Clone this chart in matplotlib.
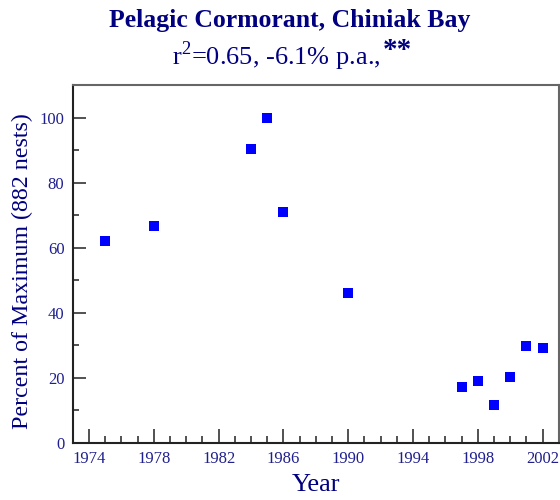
import matplotlib
matplotlib.use("Agg")
import matplotlib.pyplot as plt
from matplotlib.ticker import MultipleLocator

years = [1975, 1978, 1984, 1985, 1986, 1990, 1997, 1998, 1999, 2000, 2001, 2002]
pct_max = [62.2, 66.8, 90.3, 100.0, 71.1, 46.2, 17.3, 19.1, 11.7, 20.3, 29.8, 29.3]

title = "Pelagic Cormorant, Chiniak Bay"
xlabel = "Year"
ylabel = "Percent of Maximum (882 nests)"

navy = "#000080"
tick_col = "#1f1f8f"

plt.rcParams["font.family"] = ["Liberation Serif", "DejaVu Serif"]
plt.rcParams["mathtext.fontset"] = "custom"
plt.rcParams["mathtext.rm"] = "Liberation Serif"

fig = plt.figure(figsize=(5.6, 5.0), dpi=100)
ax = fig.add_axes([0.130, 0.114, 0.868, 0.716])

ax.plot(years, pct_max, "s", color="#0000ff", markersize=6.5, markeredgewidth=0)

ax.set_xlim(1973, 2003)
ax.set_ylim(0, 110)
ax.xaxis.set_minor_locator(MultipleLocator(1))
ax.yaxis.set_major_locator(MultipleLocator(20))
ax.yaxis.set_minor_locator(MultipleLocator(10))
ax.set_xticks(range(1974, 2003, 4))

ax.tick_params(which="both", direction="in", colors="#333333", labelcolor=tick_col,
               labelsize=12, width=1.2, top=False, right=False)
ax.tick_params(axis="x", which="major", length=10, pad=6)
ax.tick_params(axis="x", which="minor", length=5)
ax.tick_params(axis="y", which="major", length=9, pad=6)
ax.tick_params(axis="y", which="minor", length=4.5)

for side in ["left", "bottom"]:
    ax.spines[side].set_color("#222222")
    ax.spines[side].set_linewidth(1.5)
for side in ["top", "right"]:
    ax.spines[side].set_color("#666666")
    ax.spines[side].set_linewidth(1.5)

ax.set_xlabel(xlabel, fontsize=19, color=navy, labelpad=5)
ax.set_ylabel(ylabel, fontsize=17.3, color=navy)
ax.yaxis.set_label_coords(-0.082, 0.48)

fig.text(0.518, 0.958, title, ha="center", va="center", fontsize=18.5,
         fontweight="bold", color=navy)
sub = fig.text(0.308, 0.888, r"r$^{2}$=0.65, -6.1% p.a.,", ha="left", va="center",
               fontsize=19, color=navy)
fig.canvas.draw()
bb = sub.get_window_extent().transformed(fig.transFigure.inverted())
fig.text(bb.x1 + 0.004, 0.898, "**", ha="left", va="center", fontsize=21,
         fontweight="bold", color=navy)

fig.savefig("out.png", dpi=100)
